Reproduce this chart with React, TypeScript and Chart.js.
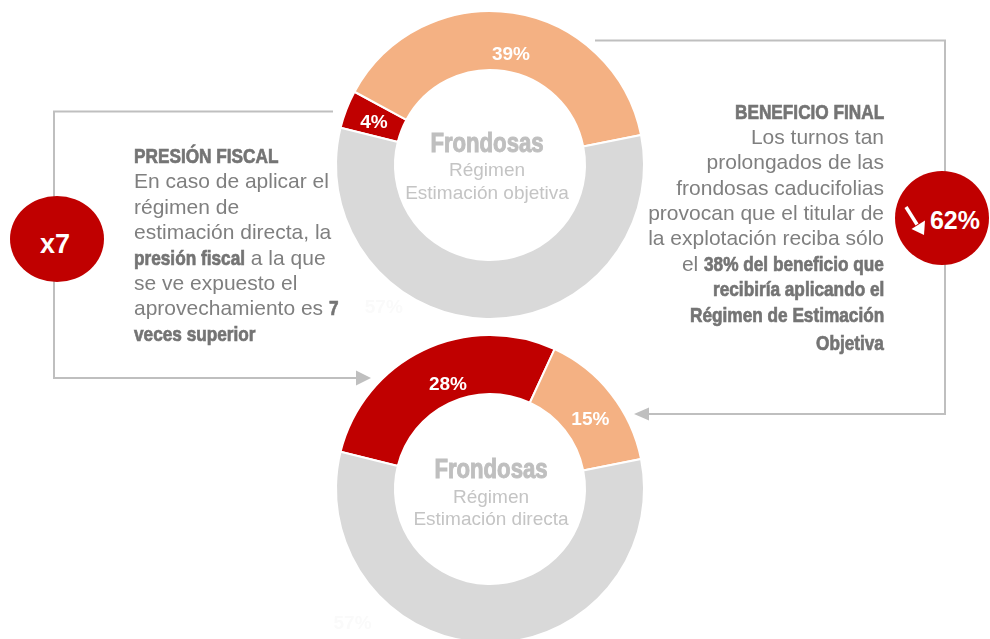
import React, { useEffect, useRef } from 'react';
import { Chart, registerables } from 'chart.js';

Chart.register(...registerables);

// ---------- data ----------
const sliceNames = ['Presión fiscal', 'Beneficio', 'Resto'];
const objetivaValues = [4, 39, 57];
const directaValues = [28, 15, 57];
const objetivaTitle = ['Frondosas', 'Régimen', 'Estimación objetiva'];
const directaTitle = ['Frondosas', 'Régimen', 'Estimación directa'];
const multiplierText = 'x7';
const reductionText = '62%';

// text blocks: each line is a list of [text, bold]
const presionLines: [string, boolean][][] = [
  [['PRESIÓN FISCAL', true]],
  [['En caso de aplicar el', false]],
  [['régimen de', false]],
  [['estimación directa, la', false]],
  [['presión fiscal', true], [' a la que', false]],
  [['se ve expuesto el', false]],
  [['aprovechamiento es ', false], ['7', true]],
  [['veces superior', true]],
];
const beneficioLines: [string, boolean][][] = [
  [['BENEFICIO FINAL', true]],
  [['Los turnos tan', false]],
  [['prolongados de las', false]],
  [['frondosas caducifolias', false]],
  [['provocan que el titular de', false]],
  [['la explotación reciba sólo', false]],
  [['el ', false], ['38% del beneficio que', true]],
  [['recibiría aplicando el', true]],
  [['Régimen de Estimación', true]],
  [['Objetiva', true]],
];

// ---------- styles ----------
const sliceColors = ['#C00000', '#F4B183', '#D9D9D9'];
const labelColors = ['#FFFFFF', '#FFFFFF', '#FAFAFA'];
const objetivaPlacement = [[-0.7, 0.49], [2, 0.31], [35.5, 1.42]];
const directaPlacement = [[3.9, 0.31], [3, 0.47], [44.4, 1.68]];
const SANS = '"Liberation Sans", Arial, sans-serif';
const NARROW_SCALE = 0.82;
const TEXT_GREY = '#7F7F7F';
const BOLD_GREY = '#747474';
const LINE_GREY = '#BFBFBF';
const RED = '#C00000';

let measureCtx: CanvasRenderingContext2D | null = null;
function measure(text: string, font: string): number {
  if (!measureCtx) measureCtx = document.createElement('canvas').getContext('2d');
  measureCtx!.font = font;
  return measureCtx!.measureText(text).width;
}

const donutLabelsPlugin = {
  id: 'donutLabels',
  afterDatasetsDraw(chart: any, _args: any, opts: any) {
    const ctx = chart.ctx as CanvasRenderingContext2D;
    const meta = chart.getDatasetMeta(0);
    const data = chart.data.datasets[0].data as number[];
    ctx.save();
    ctx.textAlign = 'center';
    ctx.textBaseline = 'alphabetic';
    meta.data.forEach((arc: any, i: number) => {
      const p = arc.getProps(['x', 'y', 'startAngle', 'endAngle', 'innerRadius', 'outerRadius'], true);
      const [da, fr] = opts.placement[i];
      const a = (p.startAngle + p.endAngle) / 2 + (da * Math.PI) / 180;
      const rIn = p.innerRadius + 1;
      const rOut = p.outerRadius - 1;
      const r = rIn + (rOut - rIn) * fr;
      ctx.font = `bold 19px ${SANS}`;
      ctx.fillStyle = labelColors[i];
      ctx.fillText(`${data[i]}%`, p.x + r * Math.cos(a), p.y + r * Math.sin(a) + 0.358 * 19);
    });
    const c = meta.data[0];
    (opts.title as string[]).forEach((t, j) => {
      ctx.save();
      if (j === 0) {
        ctx.font = `bold 27px ${SANS}`;
        ctx.fillStyle = '#BFBFBF';
        ctx.strokeStyle = '#BFBFBF';
        ctx.lineWidth = 1;
        ctx.translate(c.x + opts.titleDx, c.y + opts.titleDy[j]);
        ctx.scale(NARROW_SCALE, 1);
        ctx.fillText(t, 0, 0);
        ctx.strokeText(t, 0, 0);
      } else {
        ctx.font = `19px ${SANS}`;
        ctx.fillStyle = '#C4C4C4';
        ctx.fillText(t, c.x + opts.titleDx, c.y + opts.titleDy[j]);
      }
      ctx.restore();
    });
    ctx.restore();
  },
};

function Donut(props: {
  values: number[];
  placement: number[][];
  title: string[];
  titleDy: number[];
  titleDx: number;
  left: number;
  top: number;
}) {
  const ref = useRef<HTMLCanvasElement>(null);
  useEffect(() => {
    const chart = new Chart(ref.current as HTMLCanvasElement, {
      type: 'doughnut',
      data: {
        labels: sliceNames,
        datasets: [
          {
            data: props.values,
            backgroundColor: sliceColors,
            borderColor: '#FFFFFF',
            borderWidth: 2,
          },
        ],
      },
      options: {
        responsive: false,
        animation: false,
        rotation: -76,
        radius: 154,
        cutout: '61.7%',
        layout: { padding: 0 },
        plugins: {
          legend: { display: false },
          tooltip: { enabled: false },
          donutLabels: {
            placement: props.placement,
            title: props.title,
            titleDy: props.titleDy,
            titleDx: props.titleDx,
          },
        } as any,
      },
      plugins: [donutLabelsPlugin],
    });
    return () => chart.destroy();
  }, []);
  return (
    <canvas
      ref={ref}
      width={320}
      height={320}
      style={{ position: 'absolute', left: props.left, top: props.top, width: 320, height: 320 }}
    />
  );
}

function NarrowBold(props: { text: string; size: number; color: string }) {
  const w = measure(props.text, `bold ${props.size}px ${SANS}`);
  return (
    <span style={{ display: 'inline-block', width: w * NARROW_SCALE, whiteSpace: 'nowrap' }}>
      <span
        style={{
          display: 'inline-block',
          transform: `scaleX(${NARROW_SCALE})`,
          transformOrigin: '0 0',
          fontFamily: SANS,
          fontWeight: 700,
          color: props.color,
          WebkitTextStroke: `0.7px ${props.color}`,
        }}
      >
        {props.text}
      </span>
    </span>
  );
}

function TextBlock(props: {
  lines: [string, boolean][][];
  style: React.CSSProperties;
  lastGap?: number;
}) {
  return (
    <div
      style={{
        position: 'absolute',
        fontFamily: SANS,
        fontSize: 21,
        lineHeight: '25.4px',
        whiteSpace: 'pre',
        ...props.style,
      }}
    >
      {props.lines.map((line, i) => (
        <div
          key={i}
          style={{ height: 25.4, marginTop: i === props.lines.length - 1 && props.lastGap ? props.lastGap : 0 }}
        >
          {line.map(([t, b], k) =>
            b ? (
              <NarrowBold key={k} text={t} size={21} color={BOLD_GREY} />
            ) : (
              <span key={k} style={{ color: TEXT_GREY }}>
                {t}
              </span>
            ),
          )}
        </div>
      ))}
    </div>
  );
}

export default function App() {
  return (
    <div
      style={{
        position: 'fixed',
        left: 0,
        top: 0,
        width: 990,
        height: 639,
        overflow: 'hidden',
        background: '#FFFFFF',
      }}
    >
      <svg width={990} height={639} style={{ position: 'absolute', left: 0, top: 0 }}>
        {/* left bracket */}
        <polyline points="333,111.5 54,111.5 54,378 358,378" fill="none" stroke={LINE_GREY} strokeWidth={2} />
        <polygon points="371,378 356,370.5 356,385.5" fill={LINE_GREY} />
        {/* right bracket */}
        <polyline points="595,40.5 945,40.5 945,414 647,414" fill="none" stroke={LINE_GREY} strokeWidth={2} />
        <polygon points="634,414 649,407.5 649,420.5" fill={LINE_GREY} />
        {/* badges */}
        <ellipse cx={57} cy={239} rx={47} ry={43} fill={RED} />
        <ellipse cx={942} cy={218} rx={47} ry={47} fill={RED} />
        <line x1={906} y1={207} x2={917} y2={224.5} stroke="#FFFFFF" strokeWidth={3.5} />
        <polygon points="924,235 911.5,229 925,220.5" fill="#FFFFFF" />
        <text
          x={55}
          y={243 + 0.358 * 27}
          textAnchor="middle"
          fill="#FFFFFF"
          style={{ font: `bold 27px ${SANS}` }}
        >
          {multiplierText}
        </text>
        <text
          x={955}
          y={220.5 + 0.358 * 25}
          textAnchor="middle"
          fill="#FFFFFF"
          style={{ font: `bold 25px ${SANS}` }}
        >
          {reductionText}
        </text>
      </svg>
      <Donut
        values={objetivaValues}
        placement={objetivaPlacement}
        title={objetivaTitle}
        titleDy={[-13, 11, 33.5]}
        titleDx={-3}
        left={330}
        top={5}
      />
      <Donut
        values={directaValues}
        placement={directaPlacement}
        title={directaTitle}
        titleDy={[-11, 14, 36]}
        titleDx={1}
        left={330}
        top={329}
      />
      <TextBlock lines={presionLines} style={{ left: 134, top: 143, textAlign: 'left' }} />
      <TextBlock lines={beneficioLines} style={{ right: 106, top: 98.5, textAlign: 'right' }} lastGap={3} />
    </div>
  );
}
